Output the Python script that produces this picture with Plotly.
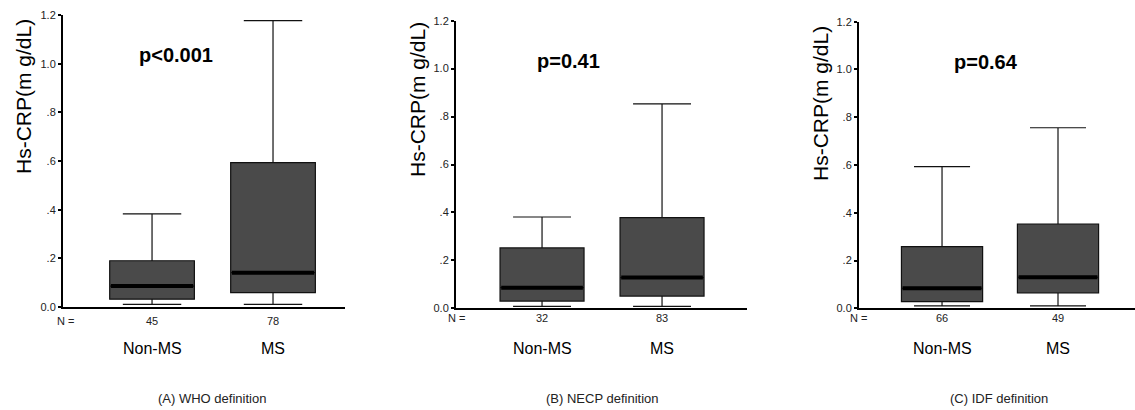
import plotly.graph_objects as go

# ---- data ----
categories = ["Non-MS", "MS"]
panel_titles = ["(A) WHO definition", "(B) NECP definition", "(C) IDF definition"]
p_values = ["p<0.001", "p=0.41", "p=0.64"]
n_counts = [[45, 78], [32, 83], [66, 49]]
lower_whisker = [[0.011, 0.011], [0.008, 0.008], [0.010, 0.010]]
q1_vals = [[0.032, 0.059], [0.030, 0.051], [0.028, 0.065]]
median_vals = [[0.086, 0.141], [0.086, 0.128], [0.084, 0.130]]
q3_vals = [[0.190, 0.593], [0.252, 0.378], [0.258, 0.353]]
upper_whisker = [[0.383, 1.177], [0.381, 0.853], [0.593, 0.756]]
y_tickvals = [0, 0.2, 0.4, 0.6, 0.8, 1.0, 1.2]
y_ticktext = ["0.0", ".2", ".4", ".6", ".8", "1.0", "1.2"]
y_label = "Hs-CRP(m g/dL)"

# ---- layout geometry (pixels) ----
W, H = 1135, 410
def px(x):
    return x / W
def py(y):
    return 1 - y / H

panel_x = [(63, 345), (456, 747), (859, 1135)]
panel_y = [(15, 307), (20.7, 308.3), (21.7, 308.3)]
x_ranges = [(-0.736, 1.595), (-0.717, 1.708), (-0.716, 1.664)]
p_pos = [(176, 55), (568, 61), (986, 62)]
nlab_pos = [(65, 321), (456, 318), (858, 318)]
ylab_pos = [(23, 97), (417, 100), (820, 104)]
cap_x = [212, 602, 999]
BOX_W = 0.70

FONT = "Liberation Sans, Arial, sans-serif"

fig = go.Figure()
annotations = []
layout_axes = {}

for k in range(3):
    xa = "x" if k == 0 else f"x{k+1}"
    ya = "y" if k == 0 else f"y{k+1}"
    xs = list(range(len(categories)))
    fig.add_trace(go.Box(
        x=xs, q1=q1_vals[k], median=median_vals[k], q3=q3_vals[k],
        lowerfence=lower_whisker[k], upperfence=upper_whisker[k],
        width=BOX_W, whiskerwidth=0.69, boxpoints=False,
        fillcolor="#4a4a4a", line=dict(color="#111111", width=1.2),
        xaxis=xa, yaxis=ya, showlegend=False, hoverinfo="skip",
    ))
    for i, m in enumerate(median_vals[k]):
        fig.add_trace(go.Scatter(
            x=[i - BOX_W / 2 + 0.01, i + BOX_W / 2 - 0.01], y=[m, m],
            mode="lines", line=dict(color="black", width=4),
            xaxis=xa, yaxis=ya, showlegend=False, hoverinfo="skip",
        ))

    xkey = "xaxis" if k == 0 else f"xaxis{k+1}"
    ykey = "yaxis" if k == 0 else f"yaxis{k+1}"
    layout_axes[xkey] = dict(
        domain=[px(panel_x[k][0]), px(panel_x[k][1])], range=list(x_ranges[k]),
        showline=True, linecolor="black", linewidth=2, showgrid=False,
        zeroline=False, showticklabels=False, ticks="", anchor=ya,
        fixedrange=True, automargin=False,
    )
    layout_axes[ykey] = dict(
        domain=[py(panel_y[k][1]), py(panel_y[k][0])], range=[0, 1.2],
        showline=True, linecolor="black", linewidth=2, showgrid=False,
        zeroline=False, tickvals=y_tickvals, ticktext=y_ticktext,
        ticks="outside", ticklen=3, tickwidth=2, tickcolor="black",
        tickfont=dict(family=FONT, size=11, color="#222222"),
        anchor=xa, fixedrange=True, automargin=False,
    )

    # p-value
    annotations.append(dict(
        text=f"<b>{p_values[k]}</b>", x=px(p_pos[k][0]), y=py(p_pos[k][1]),
        xref="paper", yref="paper", showarrow=False, xanchor="center", yanchor="middle",
        font=dict(family=FONT, size=20, color="black"),
    ))
    # N =
    annotations.append(dict(
        text="N =", x=px(nlab_pos[k][0]), y=py(nlab_pos[k][1]),
        xref="paper", yref="paper", showarrow=False, xanchor="center", yanchor="middle",
        font=dict(family=FONT, size=11, color="#222222"),
    ))
    for i, cat in enumerate(categories):
        annotations.append(dict(
            text=str(n_counts[k][i]), x=i, y=py(nlab_pos[k][1]),
            xref=xa, yref="paper", showarrow=False, xanchor="center", yanchor="middle",
            font=dict(family=FONT, size=11, color="#222222"),
        ))
        annotations.append(dict(
            text=cat, x=i, y=py(348),
            xref=xa, yref="paper", showarrow=False, xanchor="center", yanchor="middle",
            font=dict(family=FONT, size=16, color="black"),
        ))
    # y label
    annotations.append(dict(
        text=y_label, x=px(ylab_pos[k][0]), y=py(ylab_pos[k][1]),
        xref="paper", yref="paper", showarrow=False, xanchor="center", yanchor="middle",
        textangle=-90, font=dict(family=FONT, size=21, color="black"),
    ))
    # caption
    annotations.append(dict(
        text=panel_titles[k], x=px(cap_x[k]), y=py(398),
        xref="paper", yref="paper", showarrow=False, xanchor="center", yanchor="middle",
        font=dict(family=FONT, size=13, color="#222222"),
    ))

fig.update_layout(
    template="none",
    width=W, height=H, margin=dict(l=0, r=0, t=0, b=0, autoexpand=False),
    paper_bgcolor="white", plot_bgcolor="white",
    annotations=annotations, showlegend=False, **layout_axes,
)

fig.write_html(
    "out.html",
    config={"displayModeBar": False},
    post_script="document.body.style.margin='0px';document.body.style.overflow='hidden';",
)
